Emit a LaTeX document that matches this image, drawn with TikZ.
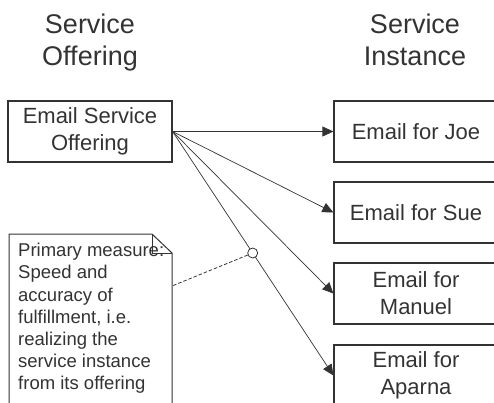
\documentclass[tikz,border=0pt]{standalone}
\usepackage{fontspec}
\setmainfont{Liberation Sans}
\usetikzlibrary{arrows.meta,calc}
\definecolor{ink}{HTML}{333333}

\tikzset{
  heading/.style={text=ink, align=center, inner sep=0pt, anchor=north,
    font=\fontsize{27}{32}\selectfont},
  itembox/.style={draw=ink, line width=1.2pt, text=ink, align=center,
    inner sep=0pt, minimum width=164pt, minimum height=61pt,
    font=\fontsize{22}{27}\selectfont},
  conn/.style={draw=ink, line width=0.7pt,
    -{Triangle[length=11pt,width=10pt]}},
  notetext/.style={text=ink, align=left, inner sep=0pt, anchor=north west,
    font=\fontsize{18.5}{22.2}\selectfont},
}

\begin{document}
\begin{tikzpicture}[x=1pt,y=-1pt]
\useasboundingbox (0,0) rectangle (494,402);

% column headings
\node[heading] (hoff) at (90,13.5) {Service\\Offering};
\node[heading] (hinst) at (415,13.5) {Service\\Instance};

% offering and its instances
\node[itembox] (offer) at (90,131.5) {Email Service\\Offering};
\node[itembox] (joe) at (416,131.5) {Email for Joe};
\node[itembox] (sue) at (416,212.5) {Email for Sue};
\node[itembox] (manuel) at (416,293.5) {Email for\\Manuel};
\node[itembox] (aparna) at (416,375.5) {Email for\\Aparna};

\draw[conn] (offer.east) -- (joe.west);
\draw[conn] (offer.east) -- (sue.west);
\draw[conn] (offer.east) -- (manuel.west);
\draw[conn] (offer.east) -- (aparna.west);

% small ring on the realization link
\node[circle, draw=ink, fill=white, line width=0.8pt, minimum size=10pt,
  inner sep=0pt] (ring) at ($(offer.east)!0.498!(aparna.west)$) {};

% dog-eared note
\coordinate (ntl) at (9,234);
\coordinate (nfold) at (152,234);
\coordinate (ncorner) at (172,253);
\coordinate (nbr) at (172,412);
\coordinate (nbl) at (9,412);
\coordinate (nlink) at (172,286);
\draw[ink, line width=1.0pt, fill=white]
  (ntl) -- (nfold) -- (ncorner) -- (nbr) -- (nbl) -- cycle;
\draw[ink, line width=1.0pt] (nfold) -- (nfold |- ncorner) -- (ncorner);
\node[notetext] (note) at (18,243) {Primary measure:\\Speed and\\accuracy of\\fulfillment, i.e.\\realizing the\\service instance\\from its offering};

\draw[ink, line width=0.8pt, dash pattern=on 3.5pt off 2pt] (ring) -- (nlink);
\end{tikzpicture}
\end{document}
